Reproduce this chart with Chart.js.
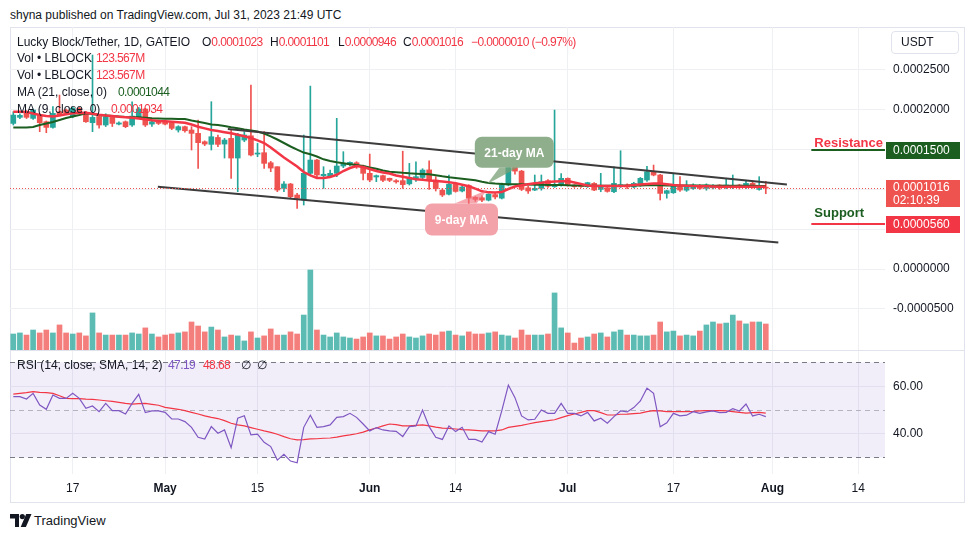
<!DOCTYPE html>
<html>
<head>
<meta charset="utf-8">
<script src="https://cdn.jsdelivr.net/npm/chart.js@4.4.0/dist/chart.umd.min.js"></script>
<style>
body{margin:0;background:#fff;font-family:"Liberation Sans",Arial,sans-serif;color:#131722}
#wrap{position:relative;width:973px;height:537px;overflow:hidden;background:#fff}
.t{position:absolute;font-size:12px;line-height:14px;white-space:nowrap}
.r{color:#f23645}
.n{letter-spacing:-0.6px}
#frame{position:absolute;left:10px;top:27px;width:955px;height:476px;box-sizing:border-box;border:1px solid #e0e3eb}
#sep{position:absolute;left:10px;top:350px;width:955px;height:1px;background:#e0e3eb}
canvas{position:absolute}
#usdt{position:absolute;left:891px;top:31px;width:68px;height:23px;box-sizing:border-box;border:1px solid #e0e3eb;border-radius:4px;font-size:12px;line-height:21px;padding-left:9px}
</style>
</head>
<body>
<div id="wrap">
<div class="t" style="left:10px;top:8px">shyna published on TradingView.com, Jul 31, 2023 21:49 UTC</div>
<div id="frame"></div>
<canvas id="main" width="955" height="323" style="left:10px;top:27px"></canvas>
<div id="sep"></div>
<canvas id="rsi" width="955" height="151" style="left:10px;top:351px"></canvas>

<div class="t" style="left:17px;top:35px">Lucky Block/Tether, 1D, GATEIO</div>
<div class="t" style="left:202px;top:35px">O<span class="r n">0.0001023</span></div>
<div class="t" style="left:270px;top:35px">H<span class="r n">0.0001101</span></div>
<div class="t" style="left:338px;top:35px">L<span class="r n">0.0000946</span></div>
<div class="t" style="left:403px;top:35px">C<span class="r n">0.0001016</span></div>
<div class="t r n" style="left:471px;top:35px">−0.0000010 (−0.97%)</div>
<div class="t" style="left:17px;top:51px">Vol • LBLOCK</div>
<div class="t r n" style="left:96px;top:51px">123.567M</div>
<div class="t" style="left:17px;top:68px">Vol • LBLOCK</div>
<div class="t r n" style="left:96px;top:68px">123.567M</div>
<div class="t" style="left:17px;top:85px">MA (21, close, 0)</div>
<div class="t n" style="left:118px;top:85px;color:#1b5e20">0.0001044</div>
<div class="t" style="left:17px;top:102px">MA (9, close, 0)</div>
<div class="t r n" style="left:111px;top:102px">0.0001034</div>
<div class="t" style="left:17px;top:358px">RSI (14, close, SMA, 14, 2)</div>
<div class="t n" style="left:168px;top:358px;color:#7e57c2">47.19</div>
<div class="t r n" style="left:203px;top:358px">48.68</div>
<div class="t" style="left:241px;top:358px">∅</div>
<div class="t" style="left:257px;top:358px">∅</div>
<div id="usdt">USDT</div>

<svg style="position:absolute;left:10px;top:514px" width="22" height="13" viewBox="0 0 22 13">
<path d="M0 0h9v13h-4v-8.5h-5z" fill="#131722"/><circle cx="12.3" cy="2.6" r="2.6" fill="#131722"/><path d="M16.2 0h5.3l-5.6 13h-5.2z" fill="#131722"/>
</svg>
<div class="t" style="left:34px;top:513px;font-size:13px;line-height:15px">TradingView</div>
</div>

<script>
// prices are in units of 0.0000001 USDT, one value per daily candle from 2023-04-08 to 2023-07-31
const opens=[1829,1905,1976,1892,1934,1850,1779,1976,1997,1913,
2018,1964,1838,1916,1809,1905,1820,1850,1809,1900,
2010,1820,1850,1850,1838,1746,1788,1746,1704,1599,
1566,1653,1570,1641,1394,1620,1674,1444,1461,1335,
1285,1013,1068,930,867,1202,1369,1173,1160,1202,
1294,1319,1335,1294,1202,1156,1173,1139,1110,1110,
1070,1130,1150,1245,1118,990,940,1070,980,1050,
900,895,865,935,890,1055,1327,1230,1020,992,
1013,1110,1034,1055,1139,1055,1050,1034,1076,1000,
1020,971,1040,1055,1030,1055,1118,1222,1181,950,
958,1034,990,1010,1050,1013,1020,1055,1034,1030,
1055,1034,1076,1000,1023]
const highs=[1976,1950,1990,2010,1950,1860,2039,2185,2010,2035,
2030,1980,2688,1930,1950,1920,1850,1860,2101,2030,
2020,1870,1870,1860,1850,1800,1795,1788,1871,1610,
2102,1683,1641,1746,1704,1725,2311,1578,1725,1352,
1285,1097,1076,950,1683,2298,1377,1285,1243,1893,
1474,1348,1348,1306,1444,1181,1180,1143,1125,1480,
1327,1348,1260,1360,1160,1010,1180,1090,1050,1060,
910,920,945,960,1080,1375,1340,1240,1040,1181,
1181,1125,1997,1200,1145,1060,1060,1090,1085,1202,
1030,1285,1486,1070,1090,1150,1290,1306,1190,990,
1202,1160,1110,1070,1060,1070,1060,1060,1139,1181,
1065,1110,1100,1160,1101]
const lows=[1809,1890,1890,1880,1725,1712,1770,1925,1940,1900,
1960,1840,1725,1770,1790,1790,1810,1775,1790,1890,
1790,1790,1815,1810,1750,1720,1720,1495,1264,1550,
1495,1536,1394,1139,971,1599,1420,1411,1264,1223,
971,971,888,762,804,1181,1160,1013,1150,1160,
1273,1294,1264,1118,1097,1097,1097,1097,1080,1013,
1055,1100,1120,1000,980,910,930,965,970,820,
850,846,855,880,880,1045,1190,985,950,985,
990,1025,1025,1040,1040,1025,1025,1025,985,971,
965,960,1025,1010,1020,1040,1100,1170,867,890,
950,975,975,1000,1000,990,1005,1000,1010,1010,
1005,1010,1015,990,946]
const closes=[1934,1930,1905,1997,1838,1779,1955,1934,1955,2018,
1976,1850,1905,1809,1913,1829,1835,1788,1921,2010,
1809,1850,1829,1820,1767,1788,1737,1704,1587,1570,
1662,1566,1620,1394,1683,1683,1432,1457,1327,1268,
992,1068,909,888,1202,1369,1181,1190,1202,1294,
1319,1340,1285,1202,1118,1173,1114,1114,1095,1060,
1150,1160,1243,1118,1010,930,1065,975,1030,890,
875,865,940,905,1055,1327,1230,1000,980,1013,
1097,1040,1055,1139,1055,1034,1034,1085,992,1034,
975,1076,1060,1030,1076,1139,1222,1180,950,984,
1055,992,1030,1055,1013,1055,1050,1025,1055,1050,
1025,1076,1034,1023,1016]
// volume in millions of LBLOCK
const volumes=[76,81,71,95,81,95,81,119,81,76,
81,67,176,81,71,71,71,71,81,76,
105,76,62,71,76,81,86,133,114,86,
109,95,62,71,67,43,86,57,67,100,
71,71,86,76,166,380,95,71,62,81,
62,57,52,62,81,67,67,52,62,76,
62,57,67,76,71,86,90,71,67,86,
76,76,81,86,71,67,57,95,71,71,
71,76,271,105,81,33,57,62,76,81,
62,86,95,71,71,67,67,71,133,86,
90,67,71,67,90,119,133,124,128,166,
138,124,133,133,123.567]
const ma21=[1777,1777,1777,1784,1809,1827,1846,1871,1897,1915,
1934,1956,1947,1934,1928,1922,1915,1909,1907,1905,
1899,1894,1892,1889,1887,1884,1884,1865,1850,1834,
1815,1809,1796,1780,1767,1752,1740,1727,1702,1667,
1627,1583,1539,1500,1463,1441,1413,1378,1356,1341,
1329,1317,1306,1294,1275,1259,1237,1222,1216,1208,
1202,1198,1194,1189,1178,1164,1152,1142,1133,1124,
1114,1096,1080,1073,1068,1064,1064,1064,1061,1059,
1058,1055,1055,1054,1051,1050,1049,1047,1046,1046,
1046,1047,1047,1048,1048,1049,1051,1052,1051,1050,
1050,1049,1049,1049,1048,1048,1047,1047,1046,1046,
1046,1045,1045,1044,1044]
const ma9=[1976,1976,1972,1953,1934,1922,1915,1928,1943,1956,
1959,1963,1951,1939,1929,1922,1912,1905,1899,1892,
1881,1868,1860,1855,1850,1844,1838,1815,1787,1767,
1746,1733,1719,1706,1686,1667,1645,1616,1583,1526,
1463,1400,1344,1287,1218,1177,1143,1143,1156,1184,
1231,1269,1294,1281,1256,1231,1212,1200,1174,1159,
1143,1128,1120,1113,1105,1098,1089,1079,1059,1040,
1010,976,963,960,967,1005,1037,1051,1064,1076,
1084,1094,1099,1103,1105,1086,1068,1050,1042,1042,
1042,1042,1042,1047,1055,1061,1068,1074,1074,1064,
1055,1050,1045,1042,1041,1039,1037,1035,1034,1034,
1034,1034,1034,1034,1034]
const rsi=[55.6,55.6,54.6,57.0,52.1,50.3,56.3,54.9,54.9,57.0,
54.9,50.7,51.7,49.3,52.8,49.7,49.7,48.3,52.8,56.6,
48.9,49.6,49.6,49.0,46.2,46.2,45.1,42.7,38.5,37.8,
43.0,40.2,41.6,34.1,46.5,47.6,39.5,39.8,36.4,34.6,
28.9,31.3,28.5,27.8,42.7,47.8,42.7,43.0,43.7,46.9,
47.2,48.6,46.9,44.1,41.2,42.6,41.6,41.2,41.0,38.8,
43.0,43.3,50.0,43.0,38.5,37.6,43.3,40.9,42.7,37.6,
37.6,36.5,40.9,39.8,49.6,60.5,55.2,47.5,45.8,46.1,
50.0,48.6,48.6,52.8,48.6,48.6,47.5,49.0,45.4,46.5,
44.4,47.2,49.6,49.2,51.0,53.8,59.2,57.0,42.9,44.6,
48.6,47.5,47.8,49.3,48.6,49.2,49.6,48.9,49.0,50.6,
49.6,52.5,47.5,48.2,47.19]
const rsiMa=[56.7,57.0,57.3,57.7,57.4,57.3,57.0,56.0,54.9,54.8,
54.8,54.6,54.5,54.2,53.9,53.6,53.2,52.8,52.5,52.7,
52.8,52.4,52.0,51.1,50.7,50.3,49.7,49.0,48.3,47.5,
46.9,46.4,45.5,44.4,43.7,43.3,42.6,41.9,41.2,40.6,
39.8,38.8,37.9,37.4,37.5,37.8,37.9,38.1,38.2,38.6,
39.1,39.5,40.0,40.7,41.6,42.4,43.3,44.1,43.8,43.3,
43.3,43.5,43.7,43.3,42.8,42.4,42.3,42.0,41.7,41.6,
41.4,41.2,41.2,41.2,41.6,42.7,43.1,43.5,44.1,44.7,
45.1,45.5,45.9,46.8,47.6,48.3,49.0,49.7,49.7,48.9,
47.9,47.9,48.2,48.3,48.5,48.7,49.3,49.7,49.6,49.3,
49.3,49.3,49.3,49.4,49.6,49.7,49.7,49.7,49.6,49.3,
49.0,48.7,48.9,49.0,48.68]

// time axis: day number counted from 2023-04-08
const tickDays=[9,23,37,54,67,84,100,115,128]
const tickLabels=["17","May","15","Jun","14","Jul","17","Aug","14"]
const priceTicks=[-500,0,500,1000,1500,2000,2500]
const rsiTicks=[40,60]
const rsiLevels=[30,50,70]

// drawings: trend lines [day, price], horizontal levels
const upperTrend=[[32.5,1758],[117.2,1061]]
const lowerTrend=[[21.9,1034],[115.9,333]]
const levelNames=["Resistance","Support"]
const levelPrices=[1500,560]
const levelStartDay=120.9
const countdown="02:10:39"

const P=1e-7
const FONT='"Liberation Sans", Arial, sans-serif'
const GRID='#eef0f4'
const UP='#26a69a', DN='#ef5350'
const XMIN=-0.5, XMAX=132.06

Chart.defaults.font.family=FONT
Chart.defaults.font.size=12
Chart.defaults.color='#131722'

let isUp=closes.map((c,i)=>c>=opens[i])
let candleCol=isUp.map(u=>u?UP:DN)
let volCol=isUp.map(u=>u?'rgba(38,166,154,0.75)':'rgba(239,83,80,0.75)')

let notes=[
{text:"21-day MA",day:75.9,price:1466,w:79,h:31,tipDay:71.8,tipPrice:1068,base:[-15,3],fill:'#8fae8b',tip:'rgba(120,160,116,0.75)'},
{text:"9-day MA",day:67.9,price:622,w:73,h:32,tipDay:71.8,tipPrice:992,base:[-7,15],fill:'#f4a2a9',tip:'rgba(240,110,122,0.6)'}
]
let levelStyle=[
{line:'#1b5e20',text:'#f23645',box:'#1b5e20',lift:3.5},
{line:'#f23645',text:'#1b5e20',box:'#f23645',lift:7}
]

function xFit(s){s.paddingLeft=0;s.paddingRight=0}
function yFit(s){s.width=80;s.paddingTop=0;s.paddingBottom=0}

function axisBox(ctx,left,top,h,color,lines){
ctx.fillStyle=color
ctx.fillRect(left,top,74,h)
ctx.fillStyle='#fff'
ctx.font='12px '+FONT
ctx.textAlign='left'
ctx.textBaseline='middle'
lines.forEach((t,k)=>ctx.fillText(t,left+7,top+h/2-(lines.length-1)*6.5+k*13+0.5))
}

const overlay={
id:'overlay',
afterDatasetsDraw(ch){
let {ctx,chartArea:a,scales:{x,y}}=ch
ctx.save()
// last price line
let py=Math.round(y.getPixelForValue(closes[closes.length-1]*P))+0.5
ctx.strokeStyle='#ef5350'
ctx.lineWidth=1
ctx.setLineDash([1,2])
ctx.beginPath();ctx.moveTo(a.left,py);ctx.lineTo(a.right,py);ctx.stroke()
ctx.setLineDash([])
// support / resistance
levelPrices.forEach((p,k)=>{
let ly=Math.round(y.getPixelForValue(p*P))
let lx=x.getPixelForValue(levelStartDay)
ctx.strokeStyle=levelStyle[k].line
ctx.lineWidth=2
ctx.beginPath();ctx.moveTo(lx,ly);ctx.lineTo(a.right,ly);ctx.stroke()
ctx.fillStyle=levelStyle[k].text
ctx.font='bold 13px '+FONT
ctx.textAlign='left'
ctx.textBaseline='alphabetic'
ctx.fillText(levelNames[k],lx+3,ly-levelStyle[k].lift)
})
// MA notes
notes.forEach(n=>{
let cx=x.getPixelForValue(n.day),cy=y.getPixelForValue(n.price*P)
let tx=x.getPixelForValue(n.tipDay),ty=y.getPixelForValue(n.tipPrice*P)
let l=cx-n.w/2,t=cy-n.h/2
let by=ty>cy?t+n.h:t
ctx.fillStyle=n.tip
ctx.beginPath();ctx.moveTo(cx+n.base[0],by);ctx.lineTo(tx,ty);ctx.lineTo(cx+n.base[1],by);ctx.closePath();ctx.fill()
ctx.fillStyle=n.fill
ctx.beginPath();ctx.roundRect(l,t,n.w,n.h,7);ctx.fill()
ctx.fillStyle='#fff'
ctx.font='bold 12px '+FONT
ctx.textAlign='center'
ctx.textBaseline='middle'
ctx.fillText(n.text,cx,cy+1)
})
ctx.restore()
},
afterDraw(ch){
let {ctx,chartArea:a,scales:{y}}=ch
ctx.save()
let bl=a.right+1
let ry=y.getPixelForValue(levelPrices[0]*P)
axisBox(ctx,bl,Math.round(ry)-8,17,levelStyle[0].box,[(levelPrices[0]*P).toFixed(7)])
let py=y.getPixelForValue(closes[closes.length-1]*P)
axisBox(ctx,bl,Math.round(py)-8,27,'#ef5350',[(closes[closes.length-1]*P).toFixed(7),countdown])
let sy=y.getPixelForValue(levelPrices[1]*P)
axisBox(ctx,bl,Math.round(sy)-8,17,levelStyle[1].box,[(levelPrices[1]*P).toFixed(7)])
ctx.restore()
}
}

const rsiBand={
id:'rsiBand',
beforeDatasetsDraw(ch){
let {ctx,chartArea:a,scales:{y}}=ch
let top=y.getPixelForValue(rsiLevels[2]),bot=y.getPixelForValue(rsiLevels[0])
ctx.save()
ctx.fillStyle='rgba(126,87,194,0.1)'
ctx.fillRect(a.left,top,a.right-a.left,bot-top)
ctx.setLineDash([5,4])
ctx.lineWidth=1
rsiLevels.forEach((lv,k)=>{
let yy=Math.round(y.getPixelForValue(lv))+0.5
ctx.strokeStyle=k==1?'rgba(120,123,134,0.5)':'#787b86'
ctx.beginPath();ctx.moveTo(a.left,yy);ctx.lineTo(a.right,yy);ctx.stroke()
})
ctx.restore()
}
}

let pts=arr=>arr.map((v,i)=>({x:i,y:v*P}))

new Chart(document.getElementById('main'),{
type:'bar',
data:{datasets:[
{type:'line',data:upperTrend.map(p=>({x:p[0],y:p[1]*P})),borderColor:'#3c3c3c',borderWidth:2,pointRadius:0,order:1},
{type:'line',data:lowerTrend.map(p=>({x:p[0],y:p[1]*P})),borderColor:'#3c3c3c',borderWidth:2,pointRadius:0,order:1},
{type:'line',label:'MA 9',data:pts(ma9),borderColor:'#f23645',borderWidth:2.5,pointRadius:0,order:2},
{type:'line',label:'MA 21',data:pts(ma21),borderColor:'#1b5e20',borderWidth:2,pointRadius:0,order:3},
{label:'body',data:opens.map((o,i)=>({x:i,y:[o*P,closes[i]*P]})),backgroundColor:candleCol,barThickness:5,minBarLength:1,grouped:false,order:4},
{label:'wick',data:highs.map((h,i)=>({x:i,y:[lows[i]*P,h*P]})),backgroundColor:candleCol,barThickness:1,grouped:false,order:5},
{label:'volume',data:volumes.map((v,i)=>({x:i,y:v})),yAxisID:'yv',backgroundColor:volCol,barThickness:5,grouped:false,order:6}
]},
options:{
responsive:false,animation:false,events:[],
layout:{padding:0},
plugins:{legend:{display:false},tooltip:{enabled:false}},
scales:{
x:{type:'linear',min:XMIN,max:XMAX,offset:false,
grid:{color:GRID,drawTicks:false,offset:false},border:{display:false},
ticks:{display:false},
afterBuildTicks:s=>{s.ticks=tickDays.map(v=>({value:v}))},
afterFit:s=>{s.height=0;xFit(s)}},
y:{position:'right',min:-1017*P,max:3040*P,
grid:{color:GRID,drawTicks:false},border:{display:false},
ticks:{padding:8,callback:v=>v.toFixed(7)},
afterBuildTicks:s=>{s.ticks=priceTicks.map(v=>({value:v*P}))},
afterFit:yFit},
yv:{display:false,min:0,max:1534}
}
},
plugins:[overlay]
})

new Chart(document.getElementById('rsi'),{
type:'line',
data:{datasets:[
{label:'RSI',data:rsi.map((v,i)=>({x:i,y:v})),borderColor:'#7e57c2',borderWidth:1.2,pointRadius:0,order:1},
{label:'RSI MA',data:rsiMa.map((v,i)=>({x:i,y:v})),borderColor:'#f23645',borderWidth:1.2,pointRadius:0,order:2}
]},
options:{
responsive:false,animation:false,events:[],
layout:{padding:0},
plugins:{legend:{display:false},tooltip:{enabled:false}},
scales:{
x:{type:'linear',min:XMIN,max:XMAX,
grid:{color:GRID,drawTicks:false},border:{display:false},
ticks:{padding:7,autoSkip:false,maxRotation:0,
font:c=>({family:FONT,size:12,weight:/[A-Z]/.test(tickLabels[c.index]||'')?'bold':'normal'}),
callback:v=>tickLabels[tickDays.indexOf(v)]},
afterBuildTicks:s=>{s.ticks=tickDays.map(v=>({value:v}))},
afterFit:s=>{s.height=28;xFit(s)}},
y:{position:'right',min:23.05,max:74.84,
grid:{color:GRID,drawTicks:false},border:{display:false},
ticks:{padding:8,callback:v=>v.toFixed(2)},
afterBuildTicks:s=>{s.ticks=rsiTicks.map(v=>({value:v}))},
afterFit:yFit}
}
},
plugins:[rsiBand]
})
</script>
</body>
</html>
